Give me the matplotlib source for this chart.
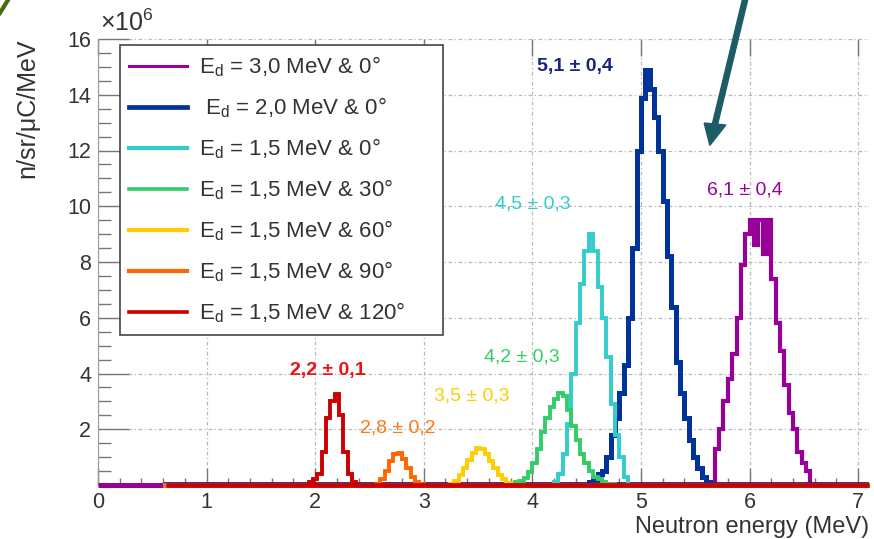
import numpy as np
import matplotlib
matplotlib.use("Agg")
import matplotlib.pyplot as plt
from matplotlib.patches import FancyArrow

plt.rcParams["font.family"] = ["Liberation Sans", "DejaVu Sans"]
plt.rcParams["mathtext.fontset"] = "custom"
plt.rcParams["mathtext.rm"] = "Liberation Sans"

# bin width (MeV) of all spectra, values in units of 1e6 n/sr/uC/MeV
bin_w = 0.04

labels = [r"$\mathregular{E_d}$ = 3,0 MeV & 0°",
          r" $\mathregular{E_d}$ = 2,0 MeV & 0°",
          r"$\mathregular{E_d}$ = 1,5 MeV & 0°",
          r"$\mathregular{E_d}$ = 1,5 MeV & 30°",
          r"$\mathregular{E_d}$ = 1,5 MeV & 60°",
          r"$\mathregular{E_d}$ = 1,5 MeV & 90°",
          r"$\mathregular{E_d}$ = 1,5 MeV & 120°"]
colors = ["#990099", "#003399", "#33cccc", "#33cc66", "#ffcc00", "#ff6600", "#cc0000"]
text_colors = ["#990099", "#1a237e", "#33cccc", "#33cc66", "#ffcc00", "#ff7711", "#ee1111"]

# first bin edge of each peak
starts = [5.68, 4.52, 4.20, 3.80, 3.24, 2.56, 1.94]

purple = [1.3, 2.0, 3.0, 3.8, 4.7, 6.0, 7.9, 9.0, 9.5, 8.6, 9.5, 8.3, 9.5, 7.4,
          5.8, 4.8, 3.6, 2.6, 2.0, 1.2, 0.8, 0.5]
blue = [0.1, 0.2, 0.4, 0.5, 1.0, 1.8, 2.4, 3.3, 4.3, 6.0, 8.5, 12.0, 13.9, 14.9,
        14.2, 13.2, 12.0, 10.2, 8.2, 6.4, 4.4, 3.3, 2.4, 1.6, 1.0, 0.6, 0.3, 0.1]
cyan = [0.1, 0.4, 1.1, 2.2, 4.0, 5.8, 7.2, 8.4, 9.0, 8.4, 7.1, 6.0, 4.6, 2.9,
        1.8, 1.0, 0.3]
green = [0.05, 0.1, 0.15, 0.25, 0.45, 0.8, 1.3, 1.9, 2.4, 2.8, 3.1, 3.3, 3.2,
         2.7, 2.1, 1.6, 1.1, 0.8, 0.5, 0.3, 0.2, 0.1, 0.05, 0.02]
yellow = [0.05, 0.15, 0.35, 0.6, 0.9, 1.15, 1.33, 1.3, 1.1, 0.85, 0.6, 0.35,
          0.2, 0.08]
orange = [0.05, 0.2, 0.5, 0.85, 1.1, 1.15, 0.95, 0.6, 0.3, 0.1, 0.02]
red = [0.1, 0.2, 0.4, 1.2, 2.4, 3.0, 3.25, 2.5, 1.2, 0.4, 0.1]
spectra = [purple, blue, cyan, green, yellow, orange, red]
widths = [3.0, 3.6, 2.8, 2.8, 2.8, 2.8, 2.8]
legend_widths = [2.2, 3.4, 3.0, 2.6, 3.0, 3.0, 2.6]
# where each spectrum's zero line begins
base_lo = [0.0, 0.6, 0.6, 0.6, 0.6, 0.6, 0.63]

peak_text = ["6,1 ± 0,4", "5,1 ± 0,4", "4,5 ± 0,3", "4,2 ± 0,3", "3,5 ± 0,3",
             "2,8 ± 0,2", "2,2 ± 0,1"]
text_x = [5.96, 4.39, 4.00, 3.90, 3.44, 2.76, 2.12]
text_y = [10.6, 15.0, 10.07, 4.6, 3.2, 2.04, 4.12]
text_bold = [False, True, False, False, False, False, True]

fig = plt.figure(figsize=(8.74, 5.39), dpi=100)
ax = fig.add_axes([98 / 874, 1 - 485 / 539, 771 / 874, 446 / 539])

handles = []
for i, vals in enumerate(spectra):
    edges = starts[i] + bin_w * np.arange(len(vals) + 1)
    ax.plot([base_lo[i], 7.1], [0, 0], color=colors[i], lw=widths[i] + 0.6,
            clip_on=False, zorder=3 + i, solid_capstyle="butt")
    ax.stairs(vals, edges, baseline=0, color=colors[i], lw=widths[i],
              zorder=3 + i)
    h, = ax.plot([], [], color=colors[i], lw=legend_widths[i])
    handles.append(h)
    ax.text(text_x[i], text_y[i], peak_text[i], color=text_colors[i],
            fontsize=14, ha="center", va="center",
            fontweight="bold" if text_bold[i] else "normal")

ax.set_xlim(0, 7.1)
ax.set_ylim(0, 16)
ax.set_xticks(np.arange(0, 8, 1))
ax.set_xticks(np.arange(0, 7.11, 0.2), minor=True)
ax.set_yticks(np.arange(2, 17, 2))
ax.set_yticks(np.arange(0.5, 16.01, 0.5), minor=True)
ax.grid(True, which="major", color="#b8b8b8", lw=0.9, ls=(0, (3, 2, 1, 2)))
ax.tick_params(which="both", direction="in", colors="#777777",
               labelcolor="#333333", labelsize=15.5)
ax.tick_params(axis="y", which="major", length=22, width=1.0, pad=5)
ax.tick_params(axis="y", which="minor", length=9, width=1.0)
ax.tick_params(axis="x", which="major", length=12, width=1.0, top=True, pad=5)
ax.tick_params(axis="x", which="minor", length=5, width=1.0)
for s in ["top", "right"]:
    ax.spines[s].set_visible(False)
for s in ["left", "bottom"]:
    ax.spines[s].set_color("#999999")

ax.set_xlabel("Neutron energy (MeV)", fontsize=17, color="#333333")
ax.xaxis.set_label_coords(1.0, -(533 - 485) / 446)
ax.xaxis.label.set_ha("right")
ax.xaxis.label.set_va("baseline")
ax.set_ylabel("n/sr/μC/MeV", fontsize=18, color="#333333")
ax.yaxis.set_label_coords(-0.092, 1.0)
ax.yaxis.label.set_va("center")
ax.yaxis.label.set_ha("right")

fig.text(100 / 874, 1 - 23 / 539, r"$\mathregular{\times 10^{6}}$", fontsize=18,
         color="#333333", ha="left", va="center")

leg_x0 = (120 - 98) / 771
leg_y1 = (485 - 45) / 446
leg = ax.legend(handles, labels, loc="upper left", mode="expand",
                bbox_to_anchor=(leg_x0, leg_y1 - 0.3, (443 - 120) / 771, 0.3),
                fontsize=16, handlelength=2.6, handletextpad=0.55,
                labelspacing=0.74, borderpad=0.42, borderaxespad=0,
                fancybox=False, framealpha=1, edgecolor="#444444")
leg.get_frame().set_linewidth(1.2)
leg.set_zorder(20)
for t in leg.get_texts():
    t.set_color("#333333")

# arrow pointing into the gap next to the 2,0 MeV peak
fig.add_artist(FancyArrow(745 / 874, 1.0, -30 / 874, -124 / 539, width=0.006,
                          head_width=0.025, head_length=0.04,
                          length_includes_head=False, color="#1d5b66",
                          transform=fig.transFigure))
fig.add_artist(plt.Line2D([0, 8 / 874], [1 - 13 / 539, 1.0], color="#4a6a10",
                          lw=3, transform=fig.transFigure))

fig.savefig("out.png", dpi=100)
